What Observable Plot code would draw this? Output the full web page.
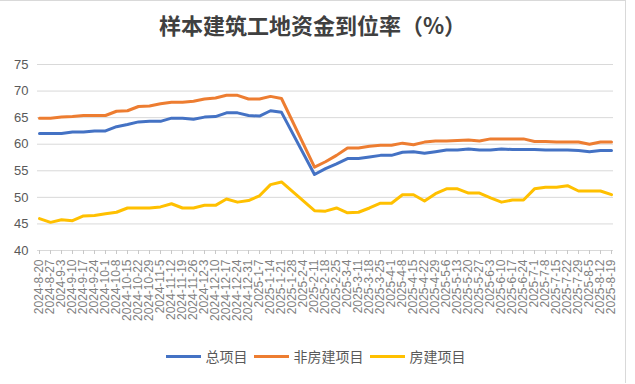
<!DOCTYPE html>
<html>
<head>
<meta charset="utf-8">
<script src="https://cdn.jsdelivr.net/npm/d3@7"></script>
<script src="https://cdn.jsdelivr.net/npm/@observablehq/plot@0.6"></script>
<style>
  html, body { margin: 0; padding: 0; background: #fff; }
  #chart { position: relative; width: 635px; height: 384px; overflow: hidden; }
  #frame { position: absolute; left: 0; top: 0; width: 625px; height: 382px; border-top: 1px solid #d9d9d9; border-right: 1px solid #d9d9d9; }
  #title { position: absolute; left: 0; top: 10px; width: 625px; text-align: center;
           font-family: "Noto Sans CJK SC", sans-serif; font-weight: bold; font-size: 22px; line-height: 28px; color: #404040; }
  #plot { position: absolute; left: 0; top: 45px; }
  #legend { position: absolute; left: 0; top: 346px; width: 631px; display: flex; justify-content: center; align-items: center;
            font-family: "Noto Sans CJK SC", sans-serif; font-size: 14px; color: #595959; line-height: 20px; }
  .item { display: flex; align-items: center; margin: 0 3px; }
  .sw { width: 35px; height: 3px; margin-right: 5px; }
</style>
</head>
<body>
<div id="chart">
  <div id="frame"></div>
  <div id="title">样本建筑工地资金到位率（%）</div>
  <div id="plot"></div>
  <div id="legend"></div>
</div>
<script>
const dates = [
  "2024-8-20","2024-8-27","2024-9-3","2024-9-10","2024-9-17","2024-9-24",
  "2024-10-1","2024-10-8","2024-10-15","2024-10-22","2024-10-29",
  "2024-11-5","2024-11-12","2024-11-19","2024-11-26",
  "2024-12-3","2024-12-10","2024-12-17","2024-12-24","2024-12-31",
  "2025-1-7","2025-1-14","2025-1-21","2025-1-28",
  "2025-2-4","2025-2-11","2025-2-18","2025-2-25",
  "2025-3-4","2025-3-11","2025-3-18","2025-3-25",
  "2025-4-1","2025-4-8","2025-4-15","2025-4-22","2025-4-29",
  "2025-5-6","2025-5-13","2025-5-20","2025-5-27",
  "2025-6-3","2025-6-10","2025-6-17","2025-6-24",
  "2025-7-1","2025-7-8","2025-7-15","2025-7-22","2025-7-29",
  "2025-8-5","2025-8-12","2025-8-19"
];

const seriesNames = ["总项目", "非房建项目", "房建项目"];
const seriesColors = ["#4472C4", "#ED7D31", "#FFC000"];

const totalProjects = [
  62.0, 62.0, 62.0, 62.3, 62.3, 62.5, 62.5, 63.3, 63.7, 64.2, 64.3, 64.3,
  64.9, 64.9, 64.7, 65.1, 65.2, 65.9, 65.9, 65.4, 65.3, 66.3, 66.0,
  null, null,
  54.3, 55.4, 56.3, 57.3, 57.3, 57.6, 57.9, 57.9, 58.5, 58.6, 58.3, 58.6,
  58.9, 58.9, 59.1, 58.9, 58.9, 59.1, 59.0, 59.0, 59.0, 58.9, 58.9, 58.9,
  58.8, 58.6, 58.8, 58.8
];
const nonHousingProjects = [
  64.9, 64.9, 65.1, 65.2, 65.4, 65.4, 65.4, 66.2, 66.3, 67.1, 67.2, 67.6,
  67.9, 67.9, 68.1, 68.5, 68.7, 69.2, 69.2, 68.5, 68.5, 69.0, 68.6,
  null, null,
  55.7, 56.7, 57.9, 59.3, 59.3, 59.6, 59.8, 59.8, 60.2, 59.9, 60.4, 60.6,
  60.6, 60.7, 60.8, 60.6, 61.0, 61.0, 61.0, 61.0, 60.5, 60.5, 60.4, 60.4,
  60.4, 60.0, 60.4, 60.4
];
const housingProjects = [
  46.0, 45.3, 45.8, 45.6, 46.5, 46.6, 46.9, 47.2, 48.0, 48.0, 48.0, 48.2,
  48.8, 48.0, 48.0, 48.5, 48.5, 49.7, 49.1, 49.4, 50.3, 52.4, 52.9,
  null, null,
  47.5, 47.4, 48.0, 47.1, 47.2, 48.0, 48.9, 48.9, 50.5, 50.5, 49.3, 50.7,
  51.6, 51.6, 50.8, 50.8, 49.9, 49.1, 49.5, 49.5, 51.6, 51.9, 51.9, 52.2,
  51.2, 51.2, 51.2, 50.5
];
const yTicks = [40, 45, 50, 55, 60, 65, 70, 75];

const seriesValues = [totalProjects, nonHousingProjects, housingProjects];
const rows = [];
seriesNames.forEach((name, s) => {
  dates.forEach((d, i) => {
    const v = seriesValues[s][i];
    if (v != null) rows.push({date: d, series: name, value: v});
  });
});

const chart = Plot.plot({
  width: 635,
  height: 297,
  marginLeft: 37,
  marginRight: 22,
  marginTop: 19,
  marginBottom: 92,
  style: {fontFamily: "'Liberation Sans', Arial, sans-serif", background: "transparent", color: "#595959"},
  x: {type: "point", domain: dates, padding: 0, label: null},
  y: {domain: [40, 75], label: null},
  color: {domain: seriesNames, range: seriesColors},
  marks: [
    Plot.gridY(yTicks, {stroke: "#d9d9d9", strokeOpacity: 1, strokeWidth: 1}),
    Plot.axisY(yTicks, {tickSize: 0, tickPadding: 9, fontSize: 13, fill: "#595959", label: null}),
    Plot.axisX(dates, {text: null, tickSize: 4, stroke: "#c8c8c8", label: null}),
    Plot.axisX(dates, {tickSize: 0, tickPadding: 9, tickRotate: -90, fontSize: 12, fill: "#7f7f7f", label: null}),
    Plot.line(rows, {x: "date", y: "value", z: "series", stroke: "series", strokeWidth: 3, strokeLinejoin: "round", strokeLinecap: "round"})
  ]
});
document.getElementById("plot").appendChild(chart);

const legend = document.getElementById("legend");
seriesNames.forEach((name, i) => {
  const item = document.createElement("div");
  item.className = "item";
  const sw = document.createElement("div");
  sw.className = "sw";
  sw.style.background = seriesColors[i];
  const label = document.createElement("span");
  label.textContent = name;
  item.appendChild(sw);
  item.appendChild(label);
  legend.appendChild(item);
});
</script>
</body>
</html>
